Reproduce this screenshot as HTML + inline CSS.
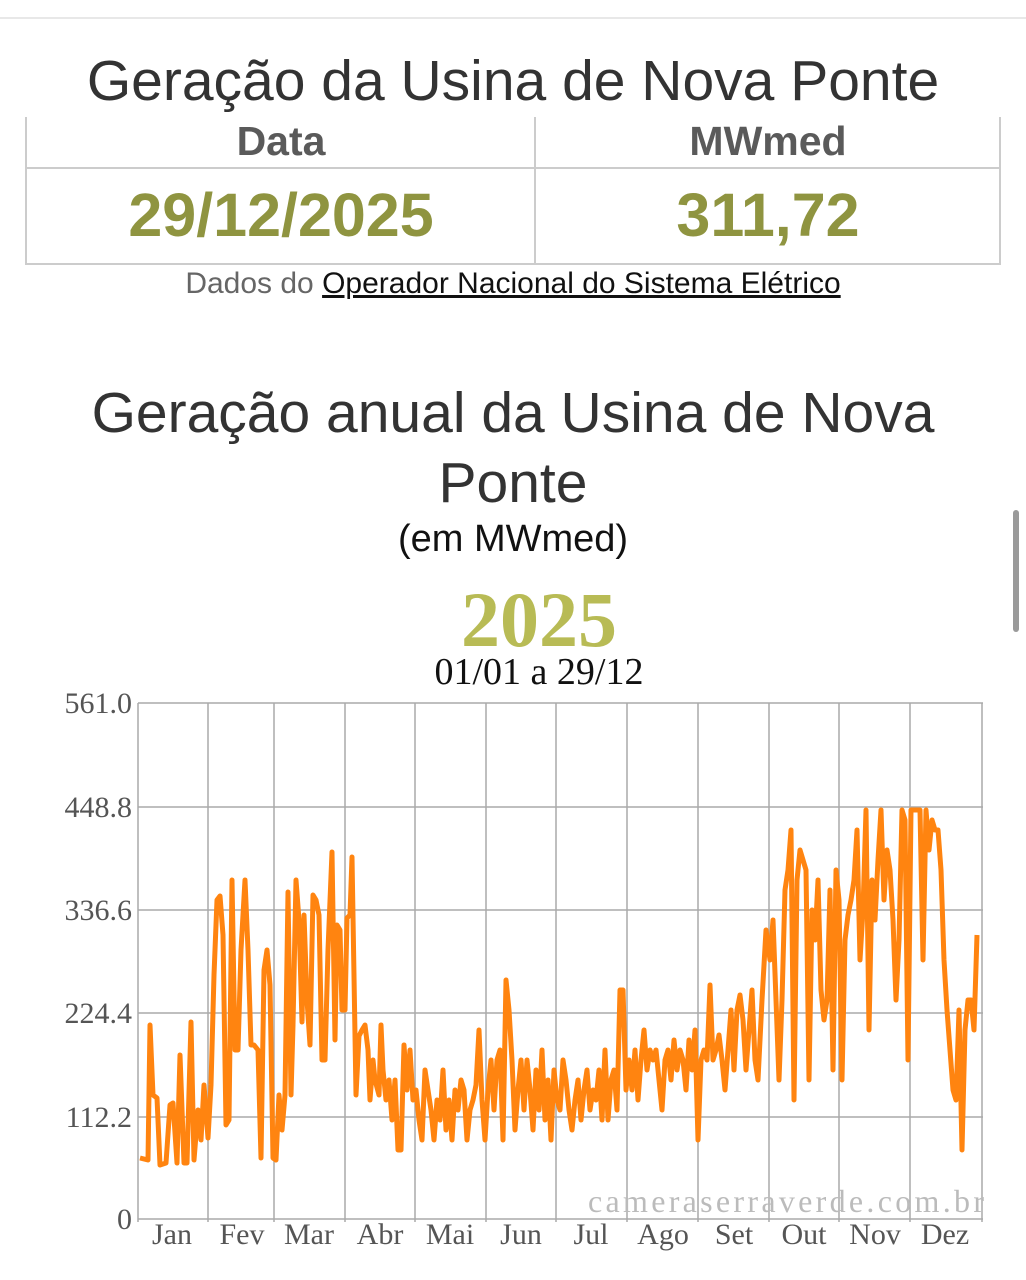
<!DOCTYPE html>
<html><head><meta charset="utf-8"><style>
body{margin:0;width:1026px;height:1280px;background:#fff;position:relative;overflow:hidden;font-family:"Liberation Sans",sans-serif}
.a{position:absolute;white-space:nowrap}
.c{left:0;width:1026px;text-align:center}
</style></head><body>
<div class="a" style="left:0;top:17px;width:1026px;height:2px;background:#e8e8e8"></div>
<div class="a c" style="top:48px;font-size:57px;color:#333;">Geração da Usina de Nova Ponte</div>
<div class="a" style="left:25px;top:117px;width:2px;height:148px;background:#ccc"></div>
<div class="a" style="left:534px;top:117px;width:2px;height:148px;background:#ccc"></div>
<div class="a" style="left:999px;top:117px;width:2px;height:148px;background:#ccc"></div>
<div class="a" style="left:25px;top:167px;width:976px;height:2px;background:#ccc"></div>
<div class="a" style="left:25px;top:263px;width:976px;height:2px;background:#ccc"></div>
<div class="a" style="left:27px;top:118px;width:508px;text-align:center;font-size:41px;font-weight:bold;color:#5a5a5a">Data</div>
<div class="a" style="left:536px;top:118px;width:464px;text-align:center;font-size:41px;font-weight:bold;color:#5a5a5a">MWmed</div>
<div class="a" style="left:27px;top:180px;width:508px;text-align:center;font-size:61px;font-weight:bold;color:#8f9440">29/12/2025</div>
<div class="a" style="left:536px;top:180px;width:464px;text-align:center;font-size:61px;font-weight:bold;color:#8f9440">311,72</div>
<div class="a c" style="top:267px;font-size:30px;color:#666">Dados do <span style="color:#111;text-decoration:underline">Operador Nacional do Sistema Elétrico</span></div>
<div class="a c" style="top:378px;font-size:57px;color:#333;line-height:70px">Geração anual da Usina de Nova<br>Ponte</div>
<div class="a c" style="top:518px;font-size:38px;color:#111">(em MWmed)</div>
<div class="a" style="left:26px;width:1026px;text-align:center;top:575px;font-size:78px;font-weight:bold;color:#b8bb55;font-family:'Liberation Serif',serif">2025</div>
<div class="a" style="left:26px;width:1026px;text-align:center;top:650px;font-size:38px;color:#111;font-family:'Liberation Serif',serif">01/01 a 29/12</div>
<div class="a" style="left:1013px;top:510px;width:6px;height:122px;border-radius:3px;background:#9a9a9a"></div>
<svg class="a" style="left:0;top:0" width="1026" height="1280">
<g stroke="#aaa" stroke-width="1.5">
<line x1="138" y1="703" x2="983" y2="703"/><line x1="138" y1="807" x2="983" y2="807"/><line x1="138" y1="910" x2="983" y2="910"/><line x1="138" y1="1013" x2="983" y2="1013"/><line x1="138" y1="1117" x2="983" y2="1117"/><line x1="138" y1="1219" x2="983" y2="1219"/>
<line x1="138" y1="703" x2="138" y2="1222"/><line x1="208" y1="703" x2="208" y2="1222"/><line x1="274" y1="703" x2="274" y2="1222"/><line x1="345" y1="703" x2="345" y2="1222"/><line x1="415" y1="703" x2="415" y2="1222"/><line x1="486" y1="703" x2="486" y2="1222"/><line x1="556" y1="703" x2="556" y2="1222"/><line x1="627" y1="703" x2="627" y2="1222"/><line x1="698" y1="703" x2="698" y2="1222"/><line x1="769" y1="703" x2="769" y2="1222"/><line x1="839" y1="703" x2="839" y2="1222"/><line x1="910" y1="703" x2="910" y2="1222"/><line x1="982" y1="703" x2="982" y2="1222"/>
</g>
<g font-family="Liberation Serif,serif" font-size="30" fill="#555" text-anchor="end">
<text x="132" y="713">561.0</text><text x="132" y="817">448.8</text><text x="132" y="920">336.6</text><text x="132" y="1023">224.4</text><text x="132" y="1127">112.2</text><text x="132" y="1229">0</text>
</g>
<g font-family="Liberation Serif,serif" font-size="30" fill="#555" text-anchor="middle">
<text x="172" y="1244">Jan</text><text x="242" y="1244">Fev</text><text x="309" y="1244">Mar</text><text x="380" y="1244">Abr</text><text x="450" y="1244">Mai</text><text x="521" y="1244">Jun</text><text x="591" y="1244">Jul</text><text x="663" y="1244">Ago</text><text x="734" y="1244">Set</text><text x="804" y="1244">Out</text><text x="875" y="1244">Nov</text><text x="945" y="1244">Dez</text>
</g>
<text x="588" y="1212" font-family="Liberation Serif,serif" font-size="32" fill="#bbb" textLength="396" lengthAdjust="spacing">cameraserraverde.com.br</text>
<polyline fill="none" stroke="#ff8410" stroke-width="5" stroke-linejoin="round" points="
140,1158 148,1160 150,1025 153,1095 157,1098 160,1165 166,1163 170,1105 173,1103 177,1163 180,1055 184,1163 187,1163 191,1022 194,1160 198,1110 201,1140 204,1085 208,1138 211,1085
214,975 217,900 220,896 223,935 226,1125 229,1120 232,880 235,1050 238,1050 241,950 245,880 248,950 251,1045 254,1045 258,1050 261,1158 264,970 267,950 270,985 273,1158 276,1160 279,1095 282,1130 285,1095 288,892 291,1095 293,1025 296,880 299,920 302,1022 304,915 307,1000 310,1045
313,895 316,900 319,915 322,1060 325,1060 328,950 332,852 335,1040 337,925 340,930 342,1010 345,1010 347,918 350,915 352,857 356,1095 359,1036 362,1030 365,1025 368,1050 370,1100 373,1060 375,1080 379,1095 381,1025 383,1070 386,1100 389,1080 392,1120 395,1080 398,1150 401,1150 404,1045 407,1090 410,1050 413,1100 416,1090 419,1120 422,1140 425,1070 428,1090 431,1110 434,1140 437,1100 440,1120 443,1070 446,1130 449,1100 452,1140 455,1090 458,1110 461,1080 464,1090 467,1140 470,1110 473,1100 476,1085 479,1030 482,1100 485,1140 488,1090 491,1060 494,1110 497,1060 500,1050 503,1140 506,980 509,1010 512,1060 515,1130 518,1090 521,1060 524,1110 527,1060 530,1090 533,1130 536,1070 539,1110 542,1050 545,1120 548,1080 551,1140 554,1070 557,1100 560,1110 563,1060 566,1080 569,1110 572,1130 575,1100 578,1080 581,1120 584,1090 587,1070 590,1110 593,1090 596,1100 599,1070 602,1120 605,1050 608,1120 611,1080 614,1070 617,1110 620,990 623,990 626,1090 629,1060 632,1090 635,1050 638,1100 641,1060 644,1030 647,1070 650,1050 653,1060 656,1050 659,1080 662,1110 665,1060 668,1050 671,1080 674,1040 677,1070 680,1050 683,1060 686,1090 689,1040 692,1070 695,1030 698,1140 701,1060 704,1050 707,1060 710,985 713,1060 716,1050 719,1035 722,1060 725,1090 728,1050 731,1010 734,1070 737,1010 740,995 743,1020 746,1070 749,1030 752,990 755,1060 758,1080 762,1000 766,930 770,960 773,920 776,1000 779,1080 782,1000 785,890 788,870 791,830 794,1100 797,880 800,850 803,860 806,870 809,1080 812,910 815,940 818,880 821,990 824,1020 827,1000 830,890 833,1070 836,870 839,900 842,1080 845,940 848,915 851,900 854,880 857,830 860,960 863,910 866,810 869,1030 872,880 875,920 878,860 881,810 884,900 887,850 890,870 893,920 896,1000 899,940 902,810 905,820 908,1060 911,810 914,810 917,810 920,810 923,960 926,810 929,850 932,820 935,830 938,830 941,870 944,960 947,1010 950,1050 953,1090 956,1100 959,1010 962,1150 965,1030 968,1000 971,1000 974,1030 977,935"/>
</svg>
</body></html>
